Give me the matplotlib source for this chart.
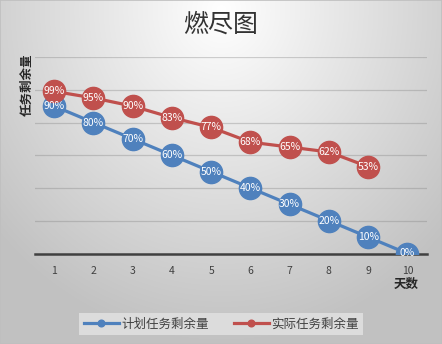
import numpy as np
import matplotlib
matplotlib.use("Agg")
import matplotlib.pyplot as plt

plt.rcParams['font.family'] = ['Noto Sans CJK SC', 'DejaVu Sans']

# 燃尽图数据（百分比）
days = [1, 2, 3, 4, 5, 6, 7, 8, 9, 10]
plan = [90, 80, 70, 60, 50, 40, 30, 20, 10, 0]
actual_days = [1, 2, 3, 4, 5, 6, 7, 8, 9]
actual = [99, 95, 90, 83, 77, 68, 65, 62, 53]

blue = '#4f81bd'
red = '#c0504d'

fig = plt.figure(figsize=(4.42, 3.44), dpi=100)

# 径向渐变背景
bg = fig.add_axes([0, 0, 1, 1], zorder=-10)
yy, xx = np.mgrid[0:344, 0:442]
r = np.sqrt(((xx - 221) / 300.0) ** 2 + ((yy - 10) / 330.0) ** 2)
shade = np.clip(1.0 - 0.24 * r, 0.76, 1.0)
bg.imshow(np.dstack([shade] * 3), extent=[0, 1, 0, 1], aspect='auto', origin='upper')
bg.set_axis_off()
fig.patches.append(plt.Rectangle((0, 0), 1, 1, transform=fig.transFigure,
                                 fill=False, edgecolor='#bfbfbf', linewidth=1.2))

ax = fig.add_axes([34.5 / 442, (344 - 253.5) / 344, (427 - 34.5) / 442, (253.5 - 57) / 344])
ax.patch.set_alpha(0)

ax.plot(days, plan, color=blue, lw=2.3, marker='o', ms=16, mec=blue, label='计划任务剩余量', zorder=3)
ax.plot(actual_days, actual, color=red, lw=2.3, marker='o', ms=16, mec=red, label='实际任务剩余量', zorder=4)

for x, v in zip(days, plan):
    ax.text(x, v, f'{v}%', color='white', ha='center', va='center', fontsize=7.5,
            fontweight='medium', zorder=5)
for x, v in zip(actual_days, actual):
    ax.text(x, v, f'{v}%', color='white', ha='center', va='center', fontsize=7.5,
            fontweight='medium', zorder=6)

ax.set_xlim(0.5, 10.5)
ax.set_ylim(0, 120)
ax.set_yticks([0, 20, 40, 60, 80, 100, 120])
ax.set_yticklabels([])
ax.set_xticks(days)
ax.tick_params(length=0, labelsize=7.5, labelcolor='#404040', pad=9)
ax.tick_params(axis='y', length=0)
ax.grid(axis='y', color='#808080', alpha=0.35, lw=0.9)
for s in ['top', 'right', 'left']:
    ax.spines[s].set_visible(False)
ax.spines['bottom'].set_color('#404040')
ax.spines['bottom'].set_linewidth(1.8)
ax.spines['bottom'].set_zorder(2)

fig.text(221 / 442, 1 - 25 / 344, '燃尽图', ha='center', va='center', fontsize=18,
         fontweight='medium', color='#333333')
fig.text(27 / 442, 1 - 85 / 344, '任务剩余量', ha='center', va='center', rotation=90,
         fontsize=9, fontweight='bold', color='#262626')
fig.text(406 / 442, 1 - 284 / 344, '天数', ha='center', va='center',
         fontsize=9, fontweight='bold', color='#262626')

leg = fig.legend(loc='center', bbox_to_anchor=(221 / 442, 1 - 324 / 344), ncol=2,
                 frameon=True, fontsize=9, markerscale=0.3, handlelength=2.8,
                 columnspacing=2.0, handletextpad=0.2, borderpad=0.35, fancybox=False)
leg.get_frame().set_facecolor('#dcdcdc')
leg.get_frame().set_edgecolor('none')
leg.get_frame().set_alpha(1)
for t in leg.get_texts():
    t.set_color('#404040')

fig.savefig('out.png', dpi=100)
